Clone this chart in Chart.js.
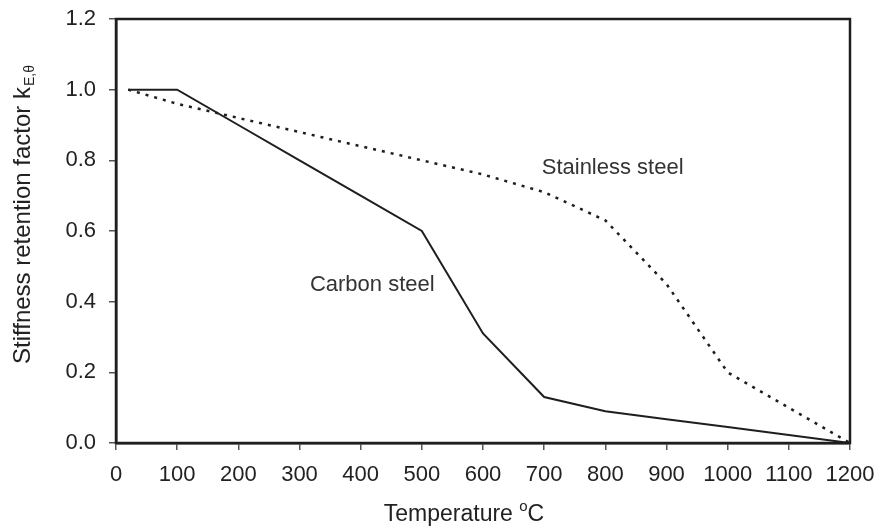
<!DOCTYPE html>
<html>
<head>
<meta charset="utf-8">
<script src="https://cdn.jsdelivr.net/npm/chart.js@4/dist/chart.umd.min.js"></script>
<style>
  html, body { margin: 0; padding: 0; background: #fff; }
  #wrap { width: 881px; height: 529px; }
</style>
</head>
<body>
<div id="wrap"><canvas id="stiffChart" width="881" height="529"></canvas></div>
<script>
// temperatures (deg C) and retention factors k_E,theta
var carbonTemps = [20, 100, 200, 300, 400, 500, 600, 700, 800, 900, 1000, 1100, 1200];
var carbonK     = [1.0, 1.0, 0.9, 0.8, 0.7, 0.6, 0.31, 0.13, 0.09, 0.0675, 0.045, 0.0225, 0.0];
var stainlessTemps = [20, 100, 200, 300, 400, 500, 600, 700, 800, 900, 1000, 1100, 1200];
var stainlessK     = [1.0, 0.96, 0.92, 0.88, 0.84, 0.80, 0.76, 0.71, 0.63, 0.45, 0.20, 0.10, 0.0];
var xTicks = [0, 100, 200, 300, 400, 500, 600, 700, 800, 900, 1000, 1100, 1200];
var yTicks = [0.0, 0.2, 0.4, 0.6, 0.8, 1.0, 1.2];
// in-plot labels, anchored at data coordinates
var curveLabels = [
  { text: 'Stainless steel', x: 696, y: 0.778 },
  { text: 'Carbon steel', x: 317, y: 0.447 }
];

function toPoints(xs, ys) {
  return xs.map(function (x, i) { return { x: x, y: ys[i] }; });
}

var ink = '#1e1e1e';
var font = 'Arial, "Liberation Sans", Helvetica, sans-serif';

var decorations = {
  id: 'decorations',
  afterDraw: function (chart) {
    var ctx = chart.ctx;
    var a = chart.chartArea;
    var xs = chart.scales.x, ys = chart.scales.y;
    ctx.save();
    // plot frame
    ctx.strokeStyle = ink;
    ctx.lineWidth = 2.5;
    ctx.strokeRect(a.left, a.top, a.right - a.left, a.bottom - a.top);

    // curve labels
    ctx.fillStyle = '#333';
    ctx.font = '22px ' + font;
    ctx.textAlign = 'left';
    ctx.textBaseline = 'middle';
    curveLabels.forEach(function (l) {
      ctx.fillText(l.text, xs.getPixelForValue(l.x), ys.getPixelForValue(l.y));
    });

    // x title with superscript
    ctx.fillStyle = '#222';
    ctx.textBaseline = 'alphabetic';
    ctx.font = '23px ' + font;
    var t1 = 'Temperature ', t3 = 'C';
    var w1 = ctx.measureText(t1).width, w3 = ctx.measureText(t3).width;
    ctx.font = '15px ' + font;
    var w2 = ctx.measureText('o').width;
    var total = w1 + w2 + w3;
    var sx = 464 - total / 2, by = 521;
    ctx.font = '23px ' + font;
    ctx.fillText(t1, sx, by);
    ctx.font = '15px ' + font;
    ctx.fillText('o', sx + w1, by - 10);
    ctx.font = '23px ' + font;
    ctx.fillText(t3, sx + w1 + w2, by);

    // y title with subscript, rotated
    ctx.translate(30, 215);
    ctx.rotate(-Math.PI / 2);
    ctx.font = '24px ' + font;
    var m1 = 'Stiffness retention factor k';
    var mw1 = ctx.measureText(m1).width;
    ctx.font = '14px ' + font;
    var mw2 = ctx.measureText('E,\u03b8').width;
    var start = -(mw1 + mw2) / 2;
    ctx.font = '24px ' + font;
    ctx.fillText(m1, start, 0);
    ctx.font = '14px ' + font;
    ctx.fillText('E,\u03b8', start + mw1 + 1, 4);
    ctx.restore();
  }
};

new Chart(document.getElementById('stiffChart').getContext('2d'), {
  type: 'line',
  data: {
    datasets: [{
      label: 'Carbon steel',
      data: toPoints(carbonTemps, carbonK),
      borderColor: ink,
      borderWidth: 2,
      pointRadius: 0,
      tension: 0,
      fill: false
    }, {
      label: 'Stainless steel',
      data: toPoints(stainlessTemps, stainlessK),
      borderColor: ink,
      borderWidth: 2.5,
      borderDash: [3, 6],
      pointRadius: 0,
      tension: 0,
      fill: false
    }]
  },
  options: {
    responsive: false,
    animation: false,
    layout: { padding: { top: 19, right: 31, left: 0, bottom: 0 } },
    plugins: { legend: { display: false }, tooltip: { enabled: false } },
    scales: {
      x: {
        type: 'linear',
        min: 0, max: 1200,
        afterBuildTicks: function (s) { s.ticks = xTicks.map(function (v) { return { value: v }; }); },
        afterFit: function (s) { s.height = 86; s.paddingLeft = 0; s.paddingRight = 0; },
        ticks: {
          color: '#222', font: { size: 22, family: font }, padding: 12, maxRotation: 0, autoSkip: false,
          callback: function (v) { return String(v); }
        },
        grid: { drawOnChartArea: false, drawTicks: true, tickLength: 7, color: '#555', lineWidth: 1.5 },
        border: { display: true, color: ink, width: 2.5 }
      },
      y: {
        min: 0, max: 1.2,
        afterBuildTicks: function (s) { s.ticks = yTicks.map(function (v) { return { value: v }; }); },
        afterFit: function (s) { s.width = 116; s.paddingTop = 0; s.paddingBottom = 0; },
        ticks: {
          color: '#222', font: { size: 22, family: font }, padding: 13,
          callback: function (v) { return Number(v).toFixed(1); }
        },
        grid: { drawOnChartArea: false, drawTicks: true, tickLength: 7, color: '#555', lineWidth: 1.5 },
        border: { display: true, color: ink, width: 2.5 }
      }
    }
  },
  plugins: [decorations]
});
</script>
</body>
</html>
